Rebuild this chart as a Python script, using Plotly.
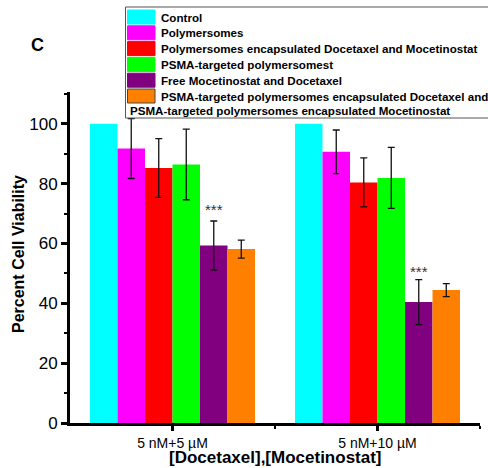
import plotly.graph_objects as go

# ---------------- data ----------------
categories = ["5 nM+5 µM", "5 nM+10 µM"]
series_names = [
    "Control",
    "Polymersomes",
    "Polymersomes encapsulated Docetaxel and Mocetinostat",
    "PSMA-targeted polymersomest",
    "Free Mocetinostat and Docetaxel",
    "PSMA-targeted polymersomes encapsulated Docetaxel and",
]
legend_wrap_line = "PSMA-targeted polymersomes encapsulated Mocetinostat"
colors = ["#00FFFF", "#FF00FF", "#FF0000", "#00FF00", "#800080", "#FF8000"]

control = [100, 100]
polymersomes = [91.7, 90.6]
poly_doc_moc = [85.2, 80.4]
psma_poly = [86.4, 81.9]
free_moc_doc = [59.3, 40.4]
psma_doc_moc = [58.1, 44.4]

control_err = [0, 0]
polymersomes_err = [10.0, 7.3]
poly_doc_moc_err = [9.8, 8.2]
psma_poly_err = [11.8, 10.2]
free_moc_doc_err = [8.2, 7.5]
psma_doc_moc_err = [3.0, 2.2]

values = [control, polymersomes, poly_doc_moc, psma_poly, free_moc_doc, psma_doc_moc]
errors = [control_err, polymersomes_err, poly_doc_moc_err, psma_poly_err,
          free_moc_doc_err, psma_doc_moc_err]

star_text = "***"
star_y = [71.2, 50.6]
star_series = 4

y_ticks = [0, 20, 40, 60, 80, 100]

# ---------------- layout geometry ----------------
W, H = 488, 468
ML, MR, MT, MB = 70, 8, 92, 45
BARGAP = 0.195
n = len(values)
x_pos = list(range(len(categories)))

def px_x(px):
    return (px - ML) / (W - ML - MR)

def px_y(py):
    return (H - MB - py) / (H - MT - MB)

fig = go.Figure()
for name, vals, errs, col in zip(series_names, values, errors, colors):
    fig.add_trace(go.Bar(
        x=x_pos, y=vals, name=name, marker_color=col,
        marker_line_width=0,
        error_y=dict(type="data", array=errs, visible=any(e > 0 for e in errs),
                     color="#111111", thickness=1.3, width=3.5),
        showlegend=False,
    ))

# significance stars above purple bars
bar_w = (1 - BARGAP) / n
offset = (star_series - (n - 1) / 2) * bar_w
annotations = []
for xi, yi in zip(x_pos, star_y):
    annotations.append(dict(x=xi + offset, y=yi, xref="x", yref="y",
                            text=star_text, showarrow=False, xanchor="center",
                            font=dict(family="Liberation Sans", size=15, color="#333333"),
                            yanchor="middle"))

# panel letter
annotations.append(dict(x=px_x(37), y=px_y(45), xref="paper", yref="paper",
                        text="<b>C</b>", showarrow=False, xanchor="center", yanchor="middle",
                        font=dict(family="Liberation Sans", size=18, color="black")))

# axis titles
annotations.append(dict(x=px_x(18), y=px_y(254), xref="paper", yref="paper",
                        text="<b>Percent Cell Viability</b>", showarrow=False, textangle=-90,
                        xanchor="center", yanchor="middle",
                        font=dict(family="Liberation Sans", size=16, color="black")))
annotations.append(dict(x=px_x(275), y=px_y(457), xref="paper", yref="paper",
                        text="<b>[Docetaxel],[Mocetinostat]</b>", showarrow=False,
                        xanchor="center", yanchor="middle",
                        font=dict(family="Liberation Sans", size=17, color="black")))

# manual legend (box, swatches, labels)
shapes = []
shapes.append(dict(type="rect", xref="paper", yref="paper",
                   x0=px_x(125.5), x1=px_x(495), y0=px_y(118), y1=px_y(7),
                   line=dict(color="#555555", width=1), fillcolor="white", layer="above"))
row0, pitch = 17, 15.8
for i, (name, col) in enumerate(zip(series_names, colors)):
    cy = row0 + i * pitch
    shapes.append(dict(type="rect", xref="paper", yref="paper",
                       x0=px_x(127.5), x1=px_x(155), y0=px_y(cy + 7), y1=px_y(cy - 7),
                       fillcolor=col,
                       line=dict(color="#444444" if i == n - 1 else col, width=1),
                       layer="above"))
    annotations.append(dict(x=px_x(159), y=px_y(cy), xref="paper", yref="paper",
                            text="<b>" + name + "</b>", showarrow=False,
                            xanchor="left", yanchor="middle",
                            font=dict(family="Liberation Sans", size=11.6, color="black")))
annotations.append(dict(x=px_x(127.5), y=px_y(row0 + n * pitch - 1), xref="paper", yref="paper",
                        text="<b>" + legend_wrap_line + "</b>", showarrow=False,
                        xanchor="left", yanchor="middle",
                        font=dict(family="Liberation Sans", size=11.6, color="black")))

fig.update_layout(
    width=W, height=H,
    margin=dict(l=ML, r=MR, t=MT, b=MB, autoexpand=False),
    paper_bgcolor="white", plot_bgcolor="white",
    barmode="group", bargap=BARGAP, bargroupgap=0,
    font=dict(family="Liberation Sans", color="black"),
    shapes=shapes, annotations=annotations,
    xaxis=dict(
        range=[-0.5, 1.5], tickvals=x_pos, ticktext=categories,
        tickfont=dict(size=14, family="Liberation Sans"),
        showline=True, linecolor="black", linewidth=3,
        ticks="outside", ticklen=5, tickwidth=3, tickcolor="black",
        minor=dict(tickvals=[0.5, 1.5], ticks="outside", ticklen=3, tickwidth=2, tickcolor="black"),
        showgrid=False, zeroline=False, automargin=False,
    ),
    yaxis=dict(
        range=[0, 110.6], tickvals=y_ticks,
        tickfont=dict(size=17, family="Liberation Sans"),
        tickprefix="<b>", ticksuffix="</b>",
        showline=True, linecolor="black", linewidth=3,
        ticks="outside", ticklen=6, tickwidth=2.5, tickcolor="black",
        minor=dict(dtick=10, tick0=10, ticks="outside", ticklen=3, tickwidth=2, tickcolor="black"),
        showgrid=False, zeroline=False, automargin=False,
    ),
)

fig.write_html("out.html", config={"displayModeBar": False},
               post_script="document.body.style.margin='0';")
